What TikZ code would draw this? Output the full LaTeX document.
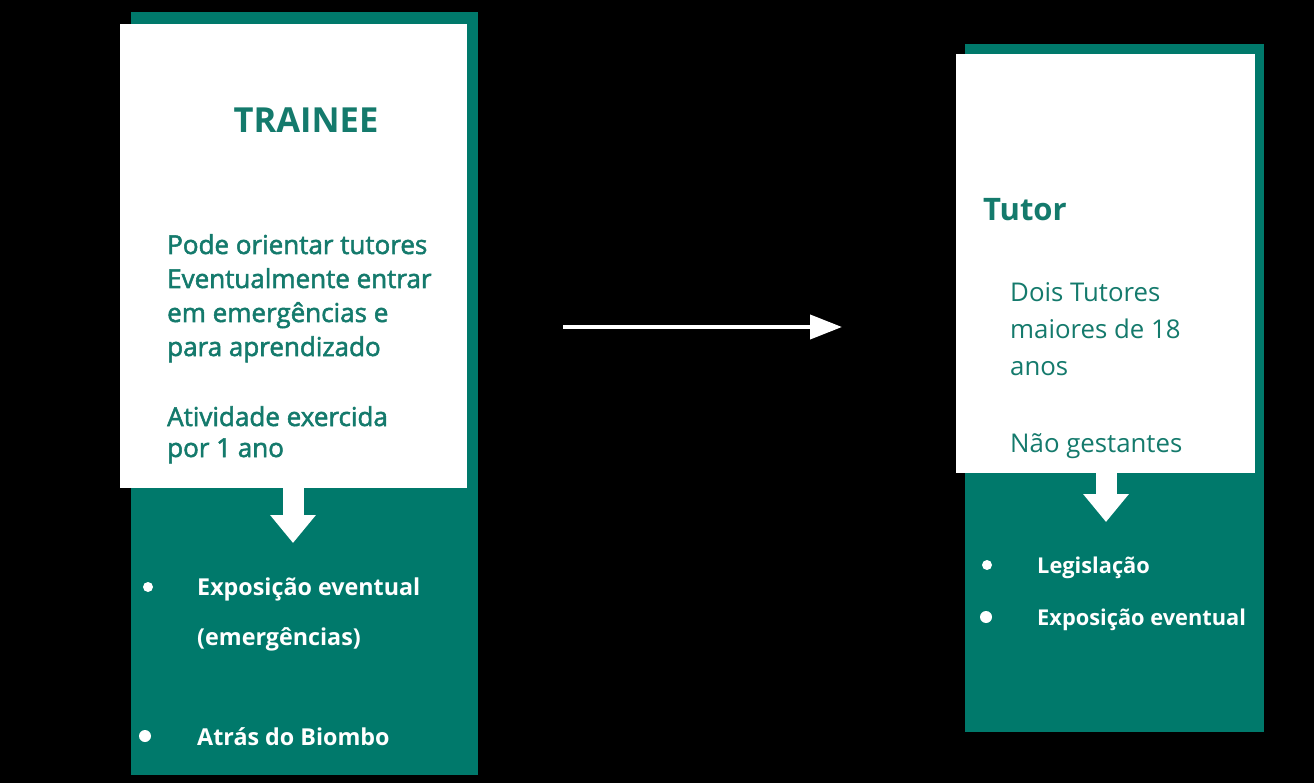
\documentclass[tikz,border=0pt]{standalone}
\usepackage{fontspec}
\setmainfont{Open Sans}
\newfontfamily\medfont[FakeBold=2]{Open Sans}
\usetikzlibrary{arrows.meta}
\definecolor{tealbg}{RGB}{0,121,107}
\definecolor{tealtxt}{RGB}{20,122,108}
\tikzset{
  tealbox/.style={fill=tealbg, draw=none, anchor=north west, inner sep=0},
  whitebox/.style={fill=white, draw=none, anchor=north west, inner sep=0},
  titletext/.style={text=tealtxt, font=\bfseries\fontsize{#1}{40}\selectfont, inner sep=0},
  lbody/.style={text=tealtxt, font=\medfont\fontsize{26}{28}\selectfont, anchor=base west, inner sep=0},
  rbody/.style={text=tealtxt, font=\fontsize{25.8}{28}\selectfont, anchor=base west, inner sep=0},
  bullettext/.style={text=white, font=\bfseries\fontsize{#1}{24}\selectfont, anchor=base west, inner sep=0},
  bulletdot/.style={circle, fill=white, inner sep=0, minimum size=#1},
  downarrow/.style={draw=white, line width=21pt, -{Triangle[width=44pt,length=28pt]}},
  mainarrow/.style={draw=white, line width=4pt, -{Triangle[width=24pt,length=32pt]}}
}
\begin{document}
\begin{tikzpicture}[x=1pt,y=-1pt]
\fill[black] (0,0) rectangle (1314,783);
\useasboundingbox (0,0) rectangle (1314,783);
% ---------- left ----------
\node[tealbox, minimum width=347pt, minimum height=763pt] (lback) at (131,12) {};
\node[whitebox, minimum width=347pt, minimum height=464pt] (lfront) at (120,24) {};
\node[titletext=34.5] (ltitle) at (306,120) {TRAINEE};
\node[lbody] (l1) at (167,254) {Pode orientar tutores};
\node[lbody] (l2) at (167,288) {Eventualmente entrar};
\node[lbody] (l3) at (167,322) {em emergências e};
\node[lbody] (l4) at (167,356) {para aprendizado};
\node[lbody] (l5) at (167,426) {Atividade exercida};
\node[lbody] (l6) at (167,457) {por 1 ano};
\coordinate (ltip) at (293,543);
\draw[downarrow] (lfront.south -| ltip) -- (ltip);
\node[bulletdot=10pt] (lb1) at (148,587) {};
\node[bullettext=23.3] (lt1) at (197,595) {Exposição eventual};
\node[bullettext=23.3] (lt2) at (197,645) {(emergências)};
\node[bulletdot=12pt] (lb2) at (145,736) {};
\node[bullettext=23.3] (lt3) at (197,745) {Atrás do Biombo};
% ---------- right ----------
\node[tealbox, minimum width=299pt, minimum height=688pt] (rback) at (965,44) {};
\node[whitebox, minimum width=299pt, minimum height=419pt] (rfront) at (956,54) {};
\node[titletext=31, anchor=base west] (rtitle) at (983,221) {Tutor};
\node[rbody] (r1) at (1010,302) {Dois Tutores};
\node[rbody] (r2) at (1010,339) {maiores de 18};
\node[rbody] (r3) at (1010,376) {anos};
\node[rbody] (r4) at (1010,452) {Não gestantes};
\coordinate (rtip) at (1106,522);
\draw[downarrow] (rfront.south -| rtip) -- (rtip);
\node[bulletdot=10pt] (rb1) at (987,565) {};
\node[bullettext=21.8] (rt1) at (1037,573) {Legislação};
\node[bulletdot=12pt] (rb2) at (986,617) {};
\node[bullettext=21.8] (rt2) at (1037,625) {Exposição eventual};
% ---------- main arrow ----------
\coordinate (mstart) at (563,327);
\coordinate (mend) at (842,327);
\draw[mainarrow] (mstart) -- (mend);
\end{tikzpicture}
\end{document}
